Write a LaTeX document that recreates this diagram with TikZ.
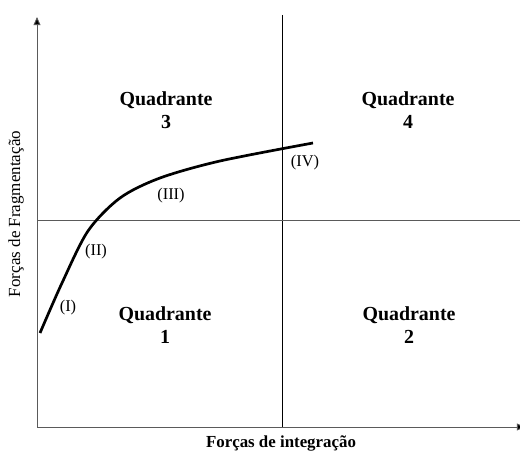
\documentclass[tikz,border=0pt]{standalone}
\usepackage{fontspec}
\setmainfont{Liberation Serif}
\usetikzlibrary{arrows.meta,positioning}
\definecolor{axisgray}{HTML}{5A5A5A}

\begin{document}
\begin{tikzpicture}[x=0.03cm,y=-0.03cm,
  quad/.style={font=\fontsize{17}{20}\selectfont\bfseries, align=center},
  phase/.style={font=\fontsize{14}{16}\selectfont},
  axis/.style={axisgray, line width=0.8pt, -{Triangle[length=7pt,width=6pt,fill=black]}}]
  \useasboundingbox (0,0) rectangle (520,453);
  \coordinate (origin) at (37,427);
  \coordinate (ytop) at (37,17);
  \coordinate (xend) at (525,427);
  \coordinate (midtop) at (282,15);
  \coordinate (midleft) at (37,220);
  \coordinate (midright) at (520,220);
  \draw[axis] (origin) -- (ytop);
  \draw[axis] (origin) -- (xend);
  \draw[line width=0.7pt] (midtop) -- (origin -| midtop);
  \draw[axisgray, line width=0.8pt] (midleft) -- (midright);
  \draw[line width=2.3pt, smooth] plot coordinates {(40,333) (62,283) (88,231) (120,198) (160,178) (220,161) (313,143)};
  \node[quad] (q3) at (166,110) {Quadrante\\3};
  \node[quad] (q4) at (408,110) {Quadrante\\4};
  \node[quad] (q1) at (165,325) {Quadrante\\1};
  \node[quad] (q2) at (409,325) {Quadrante\\2};
  \node[phase] (p1) at (68,308) {(I)};
  \node[phase] (p2) at (96,252) {(II)};
  \node[phase] (p3) at (171,196) {(III)};
  \node[phase] (p4) at (305,163) {(IV)};
  \node[font=\fontsize{14.4}{17}\selectfont\bfseries] (xlab) at (281,443) {Forças de integração};
  \node[font=\fontsize{14.5}{17}\selectfont, rotate=90] (ylab) at (16,214) {Forças de Fragmentação};
\end{tikzpicture}
\end{document}
